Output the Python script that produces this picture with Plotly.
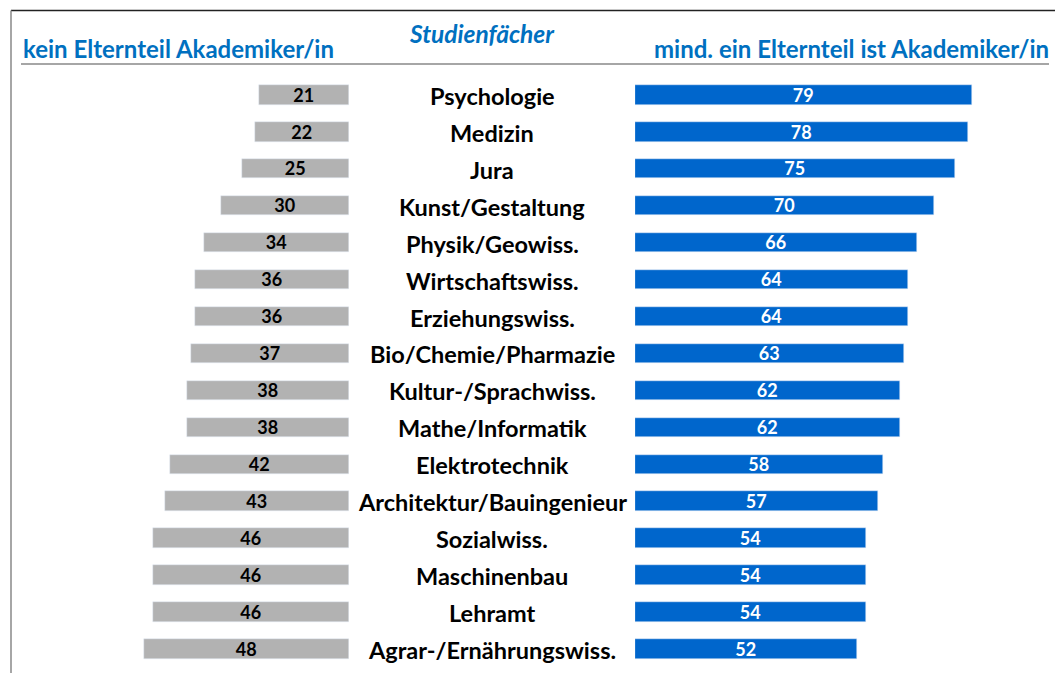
import plotly.graph_objects as go

categories = ["Psychologie", "Medizin", "Jura", "Kunst/Gestaltung", "Physik/Geowiss.",
              "Wirtschaftswiss.", "Erziehungswiss.", "Bio/Chemie/Pharmazie",
              "Kultur-/Sprachwiss.", "Mathe/Informatik", "Elektrotechnik",
              "Architektur/Bauingenieur", "Sozialwiss.", "Maschinenbau", "Lehramt",
              "Agrar-/Ernährungswiss."]
kein_akademiker = [21, 22, 25, 30, 34, 36, 36, 37, 38, 38, 42, 43, 46, 46, 46, 48]
mind_ein_akademiker = [79, 78, 75, 70, 66, 64, 64, 63, 62, 62, 58, 57, 54, 54, 54, 52]

header_left = "kein Elternteil Akademiker/in"
header_mid = "Studienfächer"
header_right = "mind. ein Elternteil ist Akademiker/in"

W, H = 1063, 673
OFF = 8  # page body margin
FW, FH = W - OFF, H - OFF
PXU = 4.27  # pixels per unit
left_end = 349
right_start = 635
row0 = 94.8
row_step = 36.95


def xp(px):
    return (px - OFF) / FW


def yp(py):
    return 1 - (py - OFF) / FH


pos = list(range(len(categories)))

BLUE = "#0066CC"
GREY = "#B2B2B2"
HEAD = "#0070C0"
FONT = "Lato"

fig = go.Figure()
fig.add_trace(go.Bar(
    x=kein_akademiker, y=pos, orientation="h", marker_color=GREY,
    text=[str(v) for v in kein_akademiker], textposition="inside",
    insidetextanchor="middle", textangle=0, constraintext="none",
    textfont=dict(family=FONT, size=18, color="black", weight="bold"),
    xaxis="x", yaxis="y", width=0.53, hoverinfo="skip", cliponaxis=False))
fig.add_trace(go.Bar(
    x=mind_ein_akademiker, y=pos, orientation="h", marker_color=BLUE,
    text=[str(v) for v in mind_ein_akademiker], textposition="inside",
    insidetextanchor="middle", textangle=0, constraintext="none",
    textfont=dict(family=FONT, size=18, color="white", weight="bold"),
    xaxis="x2", yaxis="y", width=0.53, hoverinfo="skip", cliponaxis=False))

ytop = (OFF - row0) / row_step
ybot = (H - row0) / row_step

fig.update_layout(
    width=FW, height=FH, margin=dict(l=0, r=0, t=0, b=0),
    paper_bgcolor="white", plot_bgcolor="white", showlegend=False,
    bargap=0,
    xaxis=dict(domain=[0, xp(left_end)], range=[(left_end - OFF) / PXU, 0],
               visible=False, fixedrange=True),
    xaxis2=dict(domain=[xp(right_start), 1], range=[0, (W - right_start) / PXU],
                visible=False, fixedrange=True),
    yaxis=dict(range=[ybot, ytop], visible=False, fixedrange=True),
)

for i, c in enumerate(categories):
    fig.add_annotation(x=xp(492), xref="paper", y=i, yref="y", text=f"<b>{c}</b>",
                       showarrow=False, xanchor="center", yanchor="middle",
                       yshift=-1,
                       font=dict(family=FONT, size=23.5, color="black"))

fig.add_annotation(x=xp(21), y=yp(49), xref="paper", yref="paper",
                   text=f"<b>{header_left}</b>", showarrow=False,
                   xanchor="left", yanchor="middle",
                   font=dict(family=FONT, size=24, color=HEAD))
fig.add_annotation(x=xp(1051), y=yp(49), xref="paper", yref="paper",
                   text=f"<b>{header_right}</b>", showarrow=False,
                   xanchor="right", yanchor="middle",
                   font=dict(family=FONT, size=24, color=HEAD))
fig.add_annotation(x=xp(482), y=yp(33), xref="paper", yref="paper",
                   text=f"<b><i>{header_mid}</i></b>", showarrow=False,
                   xanchor="center", yanchor="middle",
                   font=dict(family=FONT, size=24.5, color=HEAD))

# frame lines
fig.add_shape(type="line", xref="paper", yref="paper",
              x0=xp(11), x1=1, y0=yp(10.5), y1=yp(10.5),
              line=dict(color="#222222", width=1.5))
fig.add_shape(type="line", xref="paper", yref="paper",
              x0=xp(11), x1=xp(11), y0=yp(10.5), y1=0,
              line=dict(color="#888888", width=1.5))
fig.add_shape(type="line", xref="paper", yref="paper",
              x0=xp(21), x1=xp(1049), y0=yp(64), y1=yp(64),
              line=dict(color="#A6A6A6", width=2))

fig.write_html("out.html")
